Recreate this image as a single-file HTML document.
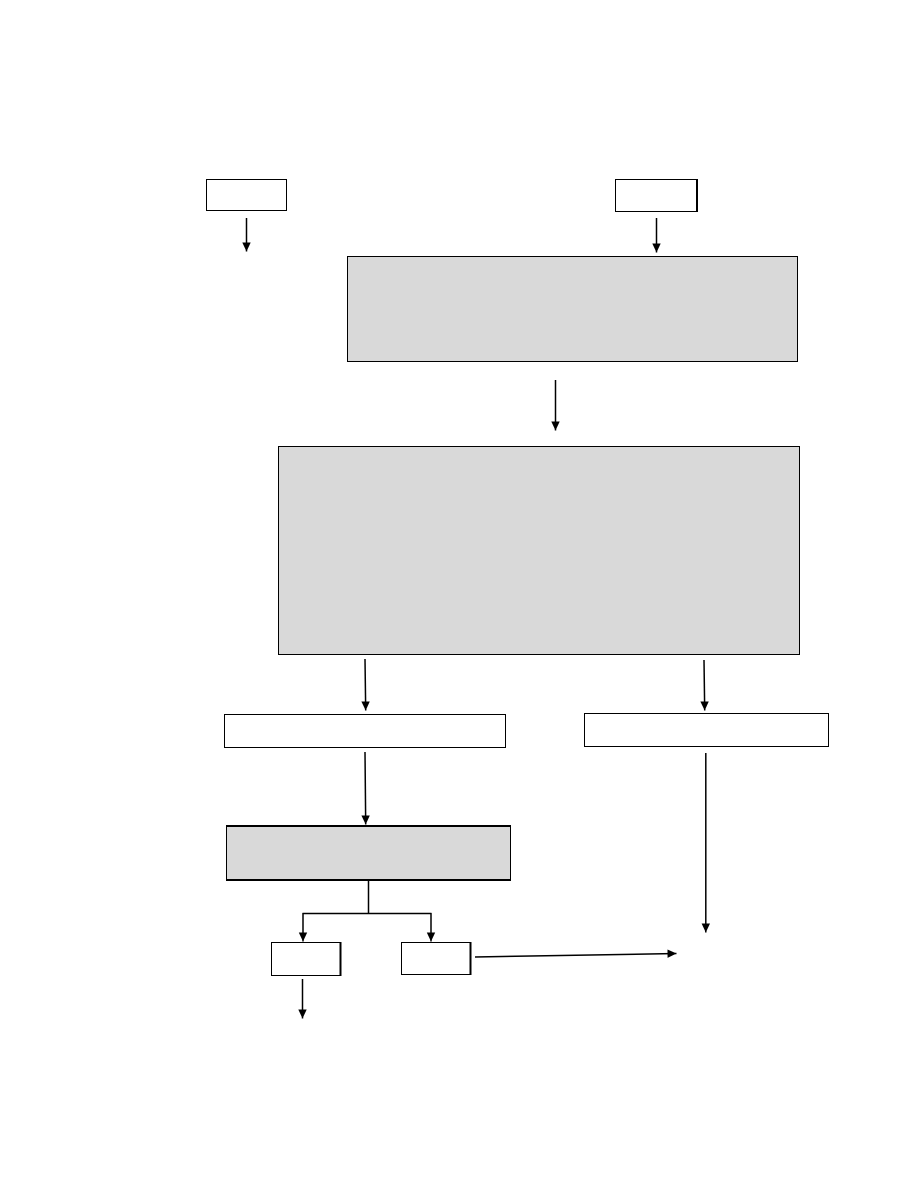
<!DOCTYPE html>
<html>
<head>
<meta charset="utf-8">
<style>
html,body{margin:0;padding:0;background:#fff;}
svg{display:block;}
</style>
</head>
<body>
<svg width="918" height="1188" viewBox="0 0 918 1188" xmlns="http://www.w3.org/2000/svg">
<defs>
<marker id="a" markerUnits="userSpaceOnUse" markerWidth="10" markerHeight="10" refX="9" refY="4.500" orient="auto">
<path d="M0 0.300L9 4.500L0 8.700Z" fill="#000"/>
</marker>
</defs>
<rect width="918" height="1188" fill="#fff"/>
<g stroke="#000" stroke-width="1" fill="#fff">
<rect x="206.500" y="179.500" width="80" height="31"/>
<rect x="615.500" y="179.500" width="81" height="32"/>
<rect x="347.500" y="256.500" width="450" height="105" fill="#d9d9d9"/>
<rect x="278.500" y="446.500" width="521" height="208" fill="#d9d9d9"/>
<rect x="224.500" y="714.500" width="281" height="33"/>
<rect x="584.500" y="713.500" width="244" height="33"/>
<rect x="226.500" y="826" width="284" height="54" fill="#d9d9d9"/>
<rect x="271.500" y="942.500" width="69" height="33"/>
<rect x="401.500" y="942.500" width="69" height="32"/>
</g>
<path d="M226 826H511M226 880H511" stroke="#000" stroke-width="2" fill="none"/>
<path d="M697 179V212M340.500 942V976M470.500 942V975" stroke="#000" stroke-width="2" fill="none"/>
<g stroke="#000" stroke-width="1.500" fill="none">
<path d="M246.500 218V251.500" marker-end="url(#a)"/>
<path d="M656.500 218V252.500" marker-end="url(#a)"/>
<path d="M555.500 380V430.500" marker-end="url(#a)"/>
<path d="M365 659L365.700 710.500" marker-end="url(#a)"/>
<path d="M704 660L704.700 710.500" marker-end="url(#a)"/>
<path d="M365 752L365.700 824.500" marker-end="url(#a)"/>
<path d="M705.800 753V932.500" marker-end="url(#a)"/>
<path d="M368.500 881V913"/>
<path d="M302.500 913.500H431.500"/>
<path d="M303 913V941.500" marker-end="url(#a)"/>
<path d="M431 913V941.500" marker-end="url(#a)"/>
<path d="M302.500 979V1018.500" marker-end="url(#a)"/>
<path d="M475 957L676.500 953.500" marker-end="url(#a)"/>
</g>
</svg>
</body>
</html>
